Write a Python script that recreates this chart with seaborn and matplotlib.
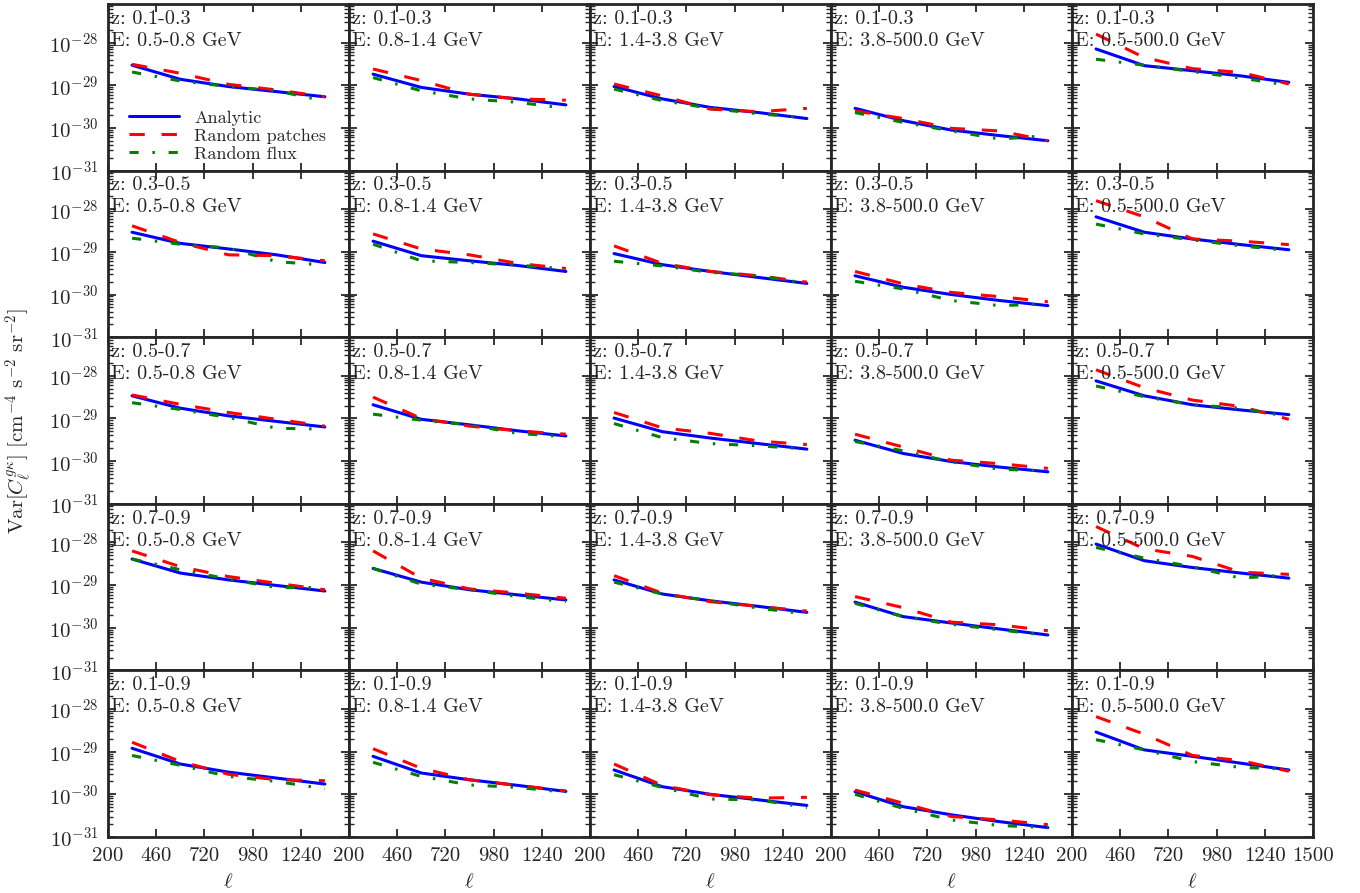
import numpy as np
import pandas as pd
import matplotlib.pyplot as plt
import seaborn as sns
from matplotlib.ticker import NullLocator, NullFormatter, FixedLocator, LogLocator

# bin centres in multipole
ell = [330, 590, 850, 1110, 1370]

z_bins = ["0.1-0.3", "0.3-0.5", "0.5-0.7", "0.7-0.9", "0.1-0.9"]
e_bins = ["0.5-0.8", "0.8-1.4", "1.4-3.8", "3.8-500.0", "0.5-500.0"]

# analytic[z][E] -> values at each ell
analytic = [
    [[2.95e-29, 1.38e-29, 9.33e-30, 7.08e-30, 5.37e-30],
     [1.82e-29, 8.91e-30, 6.17e-30, 4.79e-30, 3.47e-30],
     [9.33e-30, 4.79e-30, 3.02e-30, 2.29e-30, 1.66e-30],
     [2.88e-30, 1.48e-30, 8.91e-31, 6.61e-31, 5.01e-31],
     [7.08e-29, 2.88e-29, 2.19e-29, 1.66e-29, 1.17e-29]],
    [[2.88e-29, 1.58e-29, 1.17e-29, 8.51e-30, 5.62e-30],
     [1.78e-29, 8.13e-30, 6.17e-30, 4.79e-30, 3.47e-30],
     [9.12e-30, 5.01e-30, 3.47e-30, 2.51e-30, 1.82e-30],
     [2.75e-30, 1.48e-30, 1.00e-30, 7.24e-31, 5.50e-31],
     [6.61e-29, 2.88e-29, 2.00e-29, 1.48e-29, 1.12e-29]],
    [[3.39e-29, 1.74e-29, 1.15e-29, 8.51e-30, 6.31e-30],
     [2.09e-29, 9.55e-30, 7.08e-30, 5.13e-30, 3.89e-30],
     [1.02e-29, 4.90e-30, 3.47e-30, 2.57e-30, 1.91e-30],
     [3.09e-30, 1.51e-30, 9.77e-31, 7.24e-31, 5.62e-31],
     [7.59e-29, 3.39e-29, 2.09e-29, 1.58e-29, 1.23e-29]],
    [[4.07e-29, 1.91e-29, 1.32e-29, 9.77e-30, 7.24e-30],
     [2.45e-29, 1.17e-29, 7.76e-30, 5.89e-30, 4.47e-30],
     [1.32e-29, 6.17e-30, 4.27e-30, 3.16e-30, 2.29e-30],
     [3.98e-30, 1.82e-30, 1.29e-30, 9.33e-31, 6.76e-31],
     [9.12e-29, 3.72e-29, 2.57e-29, 1.91e-29, 1.45e-29]],
    [[1.20e-29, 5.13e-30, 3.31e-30, 2.40e-30, 1.74e-30],
     [7.76e-30, 3.16e-30, 2.19e-30, 1.62e-30, 1.17e-30],
     [3.72e-30, 1.51e-30, 1.00e-30, 7.41e-31, 5.50e-31],
     [1.15e-30, 5.13e-31, 3.31e-31, 2.29e-31, 1.66e-31],
     [2.88e-29, 1.10e-29, 7.76e-30, 5.37e-30, 3.72e-30]],
]

patches = [
    [[3.09e-29, 1.91e-29, 1.05e-29, 7.76e-30, 5.37e-30],
     [2.40e-29, 1.29e-29, 6.17e-30, 4.79e-30, 4.47e-30],
     [1.07e-29, 5.62e-30, 2.75e-30, 2.40e-30, 2.88e-30],
     [2.51e-30, 1.66e-30, 9.77e-31, 8.51e-31, 5.01e-31],
     [1.58e-28, 4.47e-29, 2.45e-29, 2.00e-29, 1.07e-29]],
    [[4.07e-29, 1.66e-29, 8.51e-30, 8.13e-30, 6.17e-30],
     [2.63e-29, 1.17e-29, 8.51e-30, 5.37e-30, 4.07e-30],
     [1.38e-29, 5.37e-30, 3.47e-30, 2.75e-30, 1.95e-30],
     [3.47e-30, 1.78e-30, 1.12e-30, 8.91e-31, 6.76e-31],
     [1.58e-28, 6.61e-29, 2.00e-29, 1.78e-29, 1.48e-29]],
    [[3.55e-29, 2.14e-29, 1.38e-29, 9.55e-30, 6.61e-30],
     [3.16e-29, 1.00e-29, 6.61e-30, 5.13e-30, 4.27e-30],
     [1.38e-29, 6.03e-30, 4.47e-30, 2.95e-30, 2.45e-30],
     [4.27e-30, 2.14e-30, 1.05e-30, 8.71e-31, 6.76e-31],
     [1.38e-28, 5.25e-29, 2.69e-29, 1.91e-29, 9.55e-30]],
    [[6.31e-29, 2.69e-29, 1.58e-29, 1.10e-29, 7.76e-30],
     [6.31e-29, 1.45e-29, 8.13e-30, 6.46e-30, 4.90e-30],
     [1.66e-29, 6.46e-30, 4.07e-30, 3.16e-30, 2.45e-30],
     [5.37e-30, 2.95e-30, 1.35e-30, 1.17e-30, 8.51e-31],
     [2.34e-28, 7.08e-29, 4.68e-29, 2.00e-29, 1.78e-29]],
    [[1.66e-29, 5.89e-30, 2.95e-30, 2.19e-30, 2.09e-30],
     [1.17e-29, 4.07e-30, 2.19e-30, 1.62e-30, 1.20e-30],
     [5.13e-30, 1.62e-30, 9.77e-31, 8.13e-31, 8.51e-31],
     [1.26e-30, 6.17e-31, 3.02e-31, 2.51e-31, 1.95e-31],
     [6.61e-29, 2.57e-29, 8.13e-30, 6.17e-30, 3.47e-30]],
]

flux = [
    [[2.04e-29, 1.26e-29, 9.33e-30, 7.41e-30, 4.27e-30],
     [1.51e-29, 7.41e-30, 4.79e-30, 3.98e-30, 2.88e-30],
     [8.13e-30, 4.37e-30, 2.88e-30, 2.14e-30, 1.74e-30],
     [2.29e-30, 1.35e-30, 8.51e-31, 5.50e-31, 6.61e-31],
     [4.07e-29, 2.95e-29, 2.09e-29, 1.48e-29, 1.00e-29]],
    [[2.09e-29, 1.51e-29, 1.23e-29, 5.89e-30, 4.90e-30],
     [1.51e-29, 6.17e-30, 5.62e-30, 4.90e-30, 3.98e-30],
     [6.03e-30, 4.68e-30, 3.31e-30, 2.75e-30, 1.82e-30],
     [2.04e-30, 1.35e-30, 7.24e-31, 5.50e-31, 6.03e-31],
     [4.47e-29, 2.63e-29, 1.91e-29, 1.38e-29, 1.07e-29]],
    [[2.34e-29, 1.62e-29, 1.05e-29, 5.89e-30, 5.62e-30],
     [1.26e-29, 9.12e-30, 7.08e-30, 4.47e-30, 3.72e-30],
     [7.59e-30, 3.55e-30, 2.57e-30, 2.29e-30, 1.91e-30],
     [2.88e-30, 1.74e-30, 9.55e-31, 6.46e-31, 5.89e-31],
     [5.75e-29, 3.24e-29, 2.09e-29, 1.74e-29, 1.10e-29]],
    [[4.07e-29, 2.29e-29, 1.38e-29, 8.71e-30, 8.71e-30],
     [2.45e-29, 1.05e-29, 7.76e-30, 5.37e-30, 4.07e-30],
     [1.17e-29, 6.17e-30, 4.27e-30, 2.88e-30, 2.09e-30],
     [3.72e-30, 1.82e-30, 1.20e-30, 8.91e-31, 6.61e-31],
     [7.59e-29, 4.27e-29, 2.69e-29, 1.45e-29, 1.74e-29]],
    [[8.13e-30, 4.79e-30, 2.63e-30, 2.00e-30, 1.35e-30],
     [5.62e-30, 2.63e-30, 1.66e-30, 1.45e-30, 1.12e-30],
     [2.88e-30, 1.45e-30, 7.76e-31, 7.41e-31, 4.90e-31],
     [1.00e-30, 4.68e-31, 2.51e-31, 1.86e-31, 1.66e-31],
     [1.91e-29, 1.10e-29, 5.89e-30, 4.27e-30, 3.89e-30]],
]

series_names = ["Analytic", "Random patches", "Random flux"]
xticks = [200, 460, 720, 980, 1240, 1500]
yticks = [1e-31, 1e-30, 1e-29, 1e-28]

# long-form table for seaborn
rows = []
for i in range(5):
    for j in range(5):
        for name, src in zip(series_names, [analytic, patches, flux]):
            for k in range(5):
                rows.append({"zi": i, "ei": j, "series": name, "ell": ell[k], "var": src[i][j][k]})
df = pd.DataFrame(rows)

sns.set_theme(style="ticks")
plt.rcParams["font.family"] = "serif"
plt.rcParams["font.serif"] = ["cmr10", "DejaVu Serif"]
plt.rcParams["mathtext.fontset"] = "cm"
plt.rcParams["axes.formatter.use_mathtext"] = True
plt.rcParams["axes.unicode_minus"] = False

palette = {"Analytic": "#0000ff", "Random patches": "#ff0000", "Random flux": "#008000"}
dashes = {"Analytic": "", "Random patches": (5, 5.5), "Random flux": (3, 4.5, 0.8, 4.5)}

fig, axs = plt.subplots(5, 5, figsize=(13.6, 8.93), dpi=100)
fig.subplots_adjust(left=0.0794, right=0.9654, top=0.9955, bottom=0.0627, wspace=0, hspace=0)

for i in range(5):
    for j in range(5):
        ax = axs[i, j]
        sub = df[(df.zi == i) & (df.ei == j)]
        sns.lineplot(data=sub, x="ell", y="var", hue="series", style="series",
                     hue_order=series_names, style_order=series_names,
                     palette=palette, dashes=dashes, linewidth=2.2,
                     estimator=None, errorbar=None, legend=(i == 0 and j == 0), ax=ax)
        ax.set_yscale("log")
        ax.set_ylim(1e-31, 8e-28)
        ax.set_xlim(200, 1500)
        ax.set_xticks(xticks)
        ax.xaxis.set_minor_locator(NullLocator())
        ax.yaxis.set_major_locator(FixedLocator(yticks))
        ax.yaxis.set_minor_locator(LogLocator(base=10, subs=np.arange(2, 10), numticks=10))
        ax.yaxis.set_minor_formatter(NullFormatter())
        ax.tick_params(which="both", direction="in", top=True, right=True)
        ax.tick_params(which="major", length=6, width=1.3, labelsize=15, pad=7)
        ax.tick_params(which="minor", length=3.5, width=1)
        for sp in ax.spines.values():
            sp.set_linewidth(2)
        ax.text(0.012, 0.965, "z: " + z_bins[i] + "\nE: " + e_bins[j] + " GeV",
                transform=ax.transAxes, ha="left", va="top", fontsize=14.5, linespacing=1.3)
        ax.set_ylabel("")
        if j > 0:
            ax.yaxis.set_major_formatter(NullFormatter())
        if i < 4:
            ax.xaxis.set_major_formatter(NullFormatter())
            ax.set_xlabel("")
        else:
            labels = [str(t) for t in xticks]
            if j < 4:
                labels[-1] = ""
            ax.set_xticklabels(labels)
            ax.set_xlabel(r"$\ell$", fontsize=15, labelpad=6)

leg_ax = axs[0, 0]
handles, labels = leg_ax.get_legend_handles_labels()
leg_ax.legend(handles, labels, loc="lower left", bbox_to_anchor=(0.057, 0.011),
              frameon=False, fontsize=13, labelspacing=0.12, handlelength=2.8,
              handletextpad=0.8, borderaxespad=0.0, borderpad=0.4)

fig.text(0.014, 0.528, r"Var$[C_\ell^{g\kappa}]$ [cm$^{-4}$ s$^{-2}$ sr$^{-2}$]",
         rotation=90, ha="center", va="center", fontsize=15)

fig.savefig("out.png", dpi=100)
